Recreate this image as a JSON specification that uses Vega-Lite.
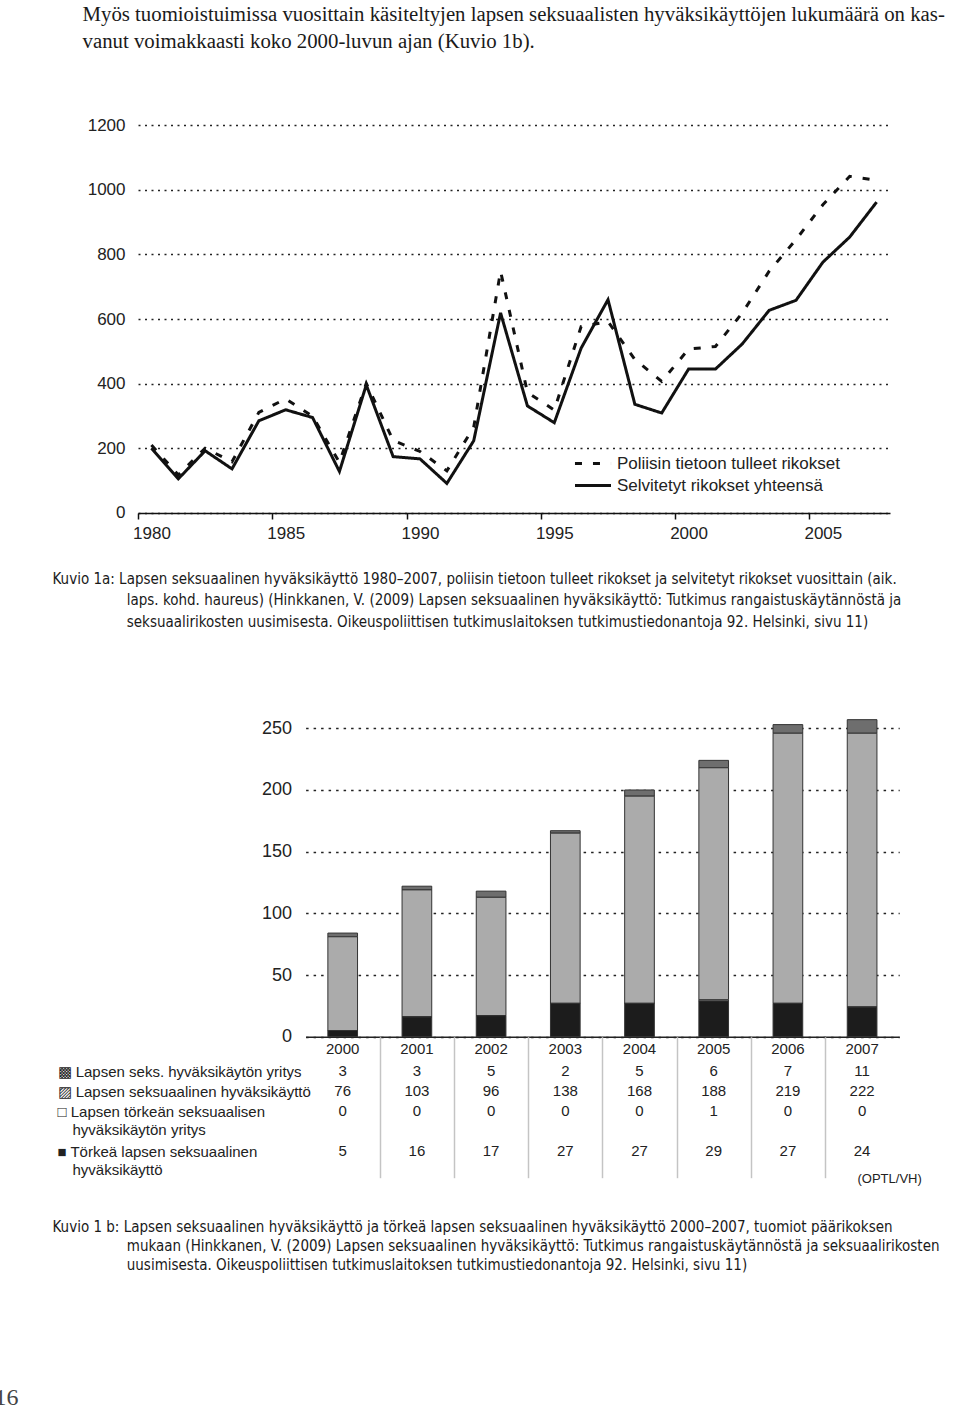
{
  "$schema": "https://vega.github.io/schema/vega-lite/v6.json",
  "width": 960,
  "height": 1408,
  "autosize": {"type": "none"},
  "padding": 0,
  "background": "white",
  "config": {
    "view": {"stroke": null},
    "font": "Liberation Sans",
    "axis": {"labelColor": "#222", "titleColor": "#222", "titleFontWeight": "normal"}
  },
  "datasets": {
    "lines": [
      {"year": 1980, "series": "Selvitetyt rikokset yhteensä", "value": 200},
      {"year": 1981, "series": "Selvitetyt rikokset yhteensä", "value": 105},
      {"year": 1982, "series": "Selvitetyt rikokset yhteensä", "value": 192},
      {"year": 1983, "series": "Selvitetyt rikokset yhteensä", "value": 136},
      {"year": 1984, "series": "Selvitetyt rikokset yhteensä", "value": 285},
      {"year": 1985, "series": "Selvitetyt rikokset yhteensä", "value": 319},
      {"year": 1986, "series": "Selvitetyt rikokset yhteensä", "value": 295},
      {"year": 1987, "series": "Selvitetyt rikokset yhteensä", "value": 128},
      {"year": 1988, "series": "Selvitetyt rikokset yhteensä", "value": 396},
      {"year": 1989, "series": "Selvitetyt rikokset yhteensä", "value": 174},
      {"year": 1990, "series": "Selvitetyt rikokset yhteensä", "value": 167},
      {"year": 1991, "series": "Selvitetyt rikokset yhteensä", "value": 91},
      {"year": 1992, "series": "Selvitetyt rikokset yhteensä", "value": 223},
      {"year": 1993, "series": "Selvitetyt rikokset yhteensä", "value": 619},
      {"year": 1994, "series": "Selvitetyt rikokset yhteensä", "value": 331},
      {"year": 1995, "series": "Selvitetyt rikokset yhteensä", "value": 279},
      {"year": 1996, "series": "Selvitetyt rikokset yhteensä", "value": 510},
      {"year": 1997, "series": "Selvitetyt rikokset yhteensä", "value": 660},
      {"year": 1998, "series": "Selvitetyt rikokset yhteensä", "value": 336},
      {"year": 1999, "series": "Selvitetyt rikokset yhteensä", "value": 309},
      {"year": 2000, "series": "Selvitetyt rikokset yhteensä", "value": 445},
      {"year": 2001, "series": "Selvitetyt rikokset yhteensä", "value": 445},
      {"year": 2002, "series": "Selvitetyt rikokset yhteensä", "value": 523},
      {"year": 2003, "series": "Selvitetyt rikokset yhteensä", "value": 627},
      {"year": 2004, "series": "Selvitetyt rikokset yhteensä", "value": 658},
      {"year": 2005, "series": "Selvitetyt rikokset yhteensä", "value": 776},
      {"year": 2006, "series": "Selvitetyt rikokset yhteensä", "value": 854},
      {"year": 2007, "series": "Selvitetyt rikokset yhteensä", "value": 962},
      {"year": 1980, "series": "Poliisin tietoon tulleet rikokset", "value": 210},
      {"year": 1981, "series": "Poliisin tietoon tulleet rikokset", "value": 117},
      {"year": 1982, "series": "Poliisin tietoon tulleet rikokset", "value": 200},
      {"year": 1983, "series": "Poliisin tietoon tulleet rikokset", "value": 158},
      {"year": 1984, "series": "Poliisin tietoon tulleet rikokset", "value": 311},
      {"year": 1985, "series": "Poliisin tietoon tulleet rikokset", "value": 353},
      {"year": 1986, "series": "Poliisin tietoon tulleet rikokset", "value": 299},
      {"year": 1987, "series": "Poliisin tietoon tulleet rikokset", "value": 156},
      {"year": 1988, "series": "Poliisin tietoon tulleet rikokset", "value": 401},
      {"year": 1989, "series": "Poliisin tietoon tulleet rikokset", "value": 224},
      {"year": 1990, "series": "Poliisin tietoon tulleet rikokset", "value": 190},
      {"year": 1991, "series": "Poliisin tietoon tulleet rikokset", "value": 130},
      {"year": 1992, "series": "Poliisin tietoon tulleet rikokset", "value": 265},
      {"year": 1993, "series": "Poliisin tietoon tulleet rikokset", "value": 748},
      {"year": 1994, "series": "Poliisin tietoon tulleet rikokset", "value": 373},
      {"year": 1995, "series": "Poliisin tietoon tulleet rikokset", "value": 318},
      {"year": 1996, "series": "Poliisin tietoon tulleet rikokset", "value": 577},
      {"year": 1997, "series": "Poliisin tietoon tulleet rikokset", "value": 592},
      {"year": 1998, "series": "Poliisin tietoon tulleet rikokset", "value": 475},
      {"year": 1999, "series": "Poliisin tietoon tulleet rikokset", "value": 407},
      {"year": 2000, "series": "Poliisin tietoon tulleet rikokset", "value": 507},
      {"year": 2001, "series": "Poliisin tietoon tulleet rikokset", "value": 515},
      {"year": 2002, "series": "Poliisin tietoon tulleet rikokset", "value": 619},
      {"year": 2003, "series": "Poliisin tietoon tulleet rikokset", "value": 748},
      {"year": 2004, "series": "Poliisin tietoon tulleet rikokset", "value": 846},
      {"year": 2005, "series": "Poliisin tietoon tulleet rikokset", "value": 954},
      {"year": 2006, "series": "Poliisin tietoon tulleet rikokset", "value": 1042},
      {"year": 2007, "series": "Poliisin tietoon tulleet rikokset", "value": 1030}
    ],
    "bars": [
      {"year": 2000, "category": "Lapsen seks. hyväksikäytön yritys", "value": 3},
      {"year": 2000, "category": "Lapsen seksuaalinen hyväksikäyttö", "value": 76},
      {"year": 2000, "category": "Lapsen törkeän seksuaalisen hyväksikäytön yritys", "value": 0},
      {"year": 2000, "category": "Törkeä lapsen seksuaalinen hyväksikäyttö", "value": 5},
      {"year": 2001, "category": "Lapsen seks. hyväksikäytön yritys", "value": 3},
      {"year": 2001, "category": "Lapsen seksuaalinen hyväksikäyttö", "value": 103},
      {"year": 2001, "category": "Lapsen törkeän seksuaalisen hyväksikäytön yritys", "value": 0},
      {"year": 2001, "category": "Törkeä lapsen seksuaalinen hyväksikäyttö", "value": 16},
      {"year": 2002, "category": "Lapsen seks. hyväksikäytön yritys", "value": 5},
      {"year": 2002, "category": "Lapsen seksuaalinen hyväksikäyttö", "value": 96},
      {"year": 2002, "category": "Lapsen törkeän seksuaalisen hyväksikäytön yritys", "value": 0},
      {"year": 2002, "category": "Törkeä lapsen seksuaalinen hyväksikäyttö", "value": 17},
      {"year": 2003, "category": "Lapsen seks. hyväksikäytön yritys", "value": 2},
      {"year": 2003, "category": "Lapsen seksuaalinen hyväksikäyttö", "value": 138},
      {"year": 2003, "category": "Lapsen törkeän seksuaalisen hyväksikäytön yritys", "value": 0},
      {"year": 2003, "category": "Törkeä lapsen seksuaalinen hyväksikäyttö", "value": 27},
      {"year": 2004, "category": "Lapsen seks. hyväksikäytön yritys", "value": 5},
      {"year": 2004, "category": "Lapsen seksuaalinen hyväksikäyttö", "value": 168},
      {"year": 2004, "category": "Lapsen törkeän seksuaalisen hyväksikäytön yritys", "value": 0},
      {"year": 2004, "category": "Törkeä lapsen seksuaalinen hyväksikäyttö", "value": 27},
      {"year": 2005, "category": "Lapsen seks. hyväksikäytön yritys", "value": 6},
      {"year": 2005, "category": "Lapsen seksuaalinen hyväksikäyttö", "value": 188},
      {"year": 2005, "category": "Lapsen törkeän seksuaalisen hyväksikäytön yritys", "value": 1},
      {"year": 2005, "category": "Törkeä lapsen seksuaalinen hyväksikäyttö", "value": 29},
      {"year": 2006, "category": "Lapsen seks. hyväksikäytön yritys", "value": 7},
      {"year": 2006, "category": "Lapsen seksuaalinen hyväksikäyttö", "value": 219},
      {"year": 2006, "category": "Lapsen törkeän seksuaalisen hyväksikäytön yritys", "value": 0},
      {"year": 2006, "category": "Törkeä lapsen seksuaalinen hyväksikäyttö", "value": 27},
      {"year": 2007, "category": "Lapsen seks. hyväksikäytön yritys", "value": 11},
      {"year": 2007, "category": "Lapsen seksuaalinen hyväksikäyttö", "value": 222},
      {"year": 2007, "category": "Lapsen törkeän seksuaalisen hyväksikäytön yritys", "value": 0},
      {"year": 2007, "category": "Törkeä lapsen seksuaalinen hyväksikäyttö", "value": 24}
    ]
  },
  "layer": [
    {
      "data": {"name": "lines"},
      "mark": {"type": "line", "color": "#111", "strokeWidth": 3, "strokeJoin": "miter", "strokeCap": "butt"},
      "encoding": {
        "x": {
          "field": "year", "type": "quantitative",
          "scale": {"domain": [1979.5, 2007.5], "range": [138, 890], "nice": false, "zero": false},
          "axis": {
            "orient": "bottom", "offset": -895,
            "values": [1979.5, 1984.5, 1989.5, 1994.5, 1999.5, 2004.5],
            "labelExpr": "format(datum.value + 0.5, 'd')",
            "labelOffset": 13.43, "labelFontSize": 17, "labelPadding": 6, "labelFlush": false, "labelOverlap": false,
            "tickSize": 6, "tickWidth": 1.5, "tickColor": "#111",
            "domainColor": "#111", "domainWidth": 1.5, "grid": false,
            "title": [
              "Kuvio 1a: Lapsen seksuaalinen hyväksikäyttö 1980–2007, poliisin tietoon tulleet rikokset ja selvitetyt rikokset vuosittain (aik.",
              "\u200b\u2003\u2003\u2003\u2003\u2003\u2002laps. kohd. haureus) (Hinkkanen, V. (2009) Lapsen seksuaalinen hyväksikäyttö: Tutkimus rangaistuskäytännöstä ja",
              "\u200b\u2003\u2003\u2003\u2003\u2003\u2002seksuaalirikosten uusimisesta. Oikeuspoliittisen tutkimuslaitoksen tutkimustiedonantoja 92. Helsinki, sivu 11)"
            ],
            "titleX": 52, "titleY": 70, "titleAlign": "left", "titleBaseline": "alphabetic", "titleAngle": 0,
            "titleFont": "Liberation Sans Narrow, DejaVu Sans Condensed, sans-serif", "titleFontSize": 15,
            "titleLineHeight": 21.5, "titleLimit": 2000, "titleColor": "#1a1a1a"
          }
        },
        "y": {
          "field": "value", "type": "quantitative",
          "scale": {"domain": [0, 1200], "range": [512.8, 125.3], "nice": false},
          "axis": {
            "orient": "left", "offset": -138, "format": "d",
            "values": [0, 200, 400, 600, 800, 1000, 1200],
            "domain": false, "ticks": false, "labelPadding": 13, "labelFontSize": 17,
            "grid": true, "gridDash": [2, 4.5], "gridColor": "#222", "gridWidth": 1.5,
            "title": [
              "Myös tuomioistuimissa vuosittain käsiteltyjen lapsen seksuaalisten hyväksikäyttöjen lukumäärä on kas-",
              "vanut voimakkaasti koko 2000-luvun ajan (Kuvio 1b)."
            ],
            "titleX": -56, "titleY": 20, "titleAngle": 0, "titleAlign": "left", "titleBaseline": "alphabetic",
            "titleFont": "Liberation Serif", "titleFontSize": 20.8, "titleLineHeight": 27, "titleLimit": 2000, "titleColor": "#1a1a1a"
          }
        },
        "strokeDash": {
          "field": "series", "type": "nominal",
          "scale": {"domain": ["Poliisin tietoon tulleet rikokset", "Selvitetyt rikokset yhteensä"], "range": [[7, 11], [1, 0]]},
          "legend": {
            "orient": "none", "legendX": 573, "legendY": 455, "title": null,
            "symbolType": "stroke", "symbolSize": 1300, "symbolStrokeWidth": 3, "symbolStrokeColor": "#111",
            "clipHeight": 17,
            "labelFontSize": 17, "labelOffset": 4, "rowPadding": 4, "labelColor": "#222", "labelLimit": 400, "padding": 0
          }
        }
      }
    },
    {
      "data": {"name": "bars"},
      "mark": {"type": "bar", "stroke": "#333", "strokeWidth": 1},
      "encoding": {
        "x": {
          "field": "year", "type": "ordinal",
          "scale": {"type": "band", "domain": [2000, 2001, 2002, 2003, 2004, 2005, 2006, 2007], "range": [305.6, 899.2], "paddingInner": 0.6, "paddingOuter": 0.3},
          "axis": {
            "orient": "bottom", "offset": -371.3, "ticks": false, "labelPadding": 5, "labelFontSize": 15, "labelAngle": 0,
            "domainColor": "#222", "domainWidth": 1.5, "grid": false,
            "title": "16", "titleX": -6, "titleY": 368, "titleAlign": "left", "titleBaseline": "alphabetic", "titleAngle": 0,
            "titleFont": "Liberation Serif", "titleFontSize": 24, "titleColor": "#444"
          }
        },
        "y": {
          "field": "value", "type": "quantitative", "stack": "zero",
          "scale": {"domain": [0, 250], "range": [1036.7, 728.3], "nice": false},
          "axis": {
            "orient": "left", "offset": -305.6, "values": [0, 50, 100, 150, 200, 250],
            "domain": false, "ticks": false, "labelPadding": 14, "labelFontSize": 18,
            "grid": true, "gridDash": [2.5, 5], "gridColor": "#222", "gridWidth": 1.5, "title": null
          }
        },
        "color": {
          "field": "category", "type": "nominal",
          "scale": {
            "domain": ["Lapsen seks. hyväksikäytön yritys", "Lapsen seksuaalinen hyväksikäyttö", "Lapsen törkeän seksuaalisen hyväksikäytön yritys", "Törkeä lapsen seksuaalinen hyväksikäyttö"],
            "range": ["#6e6e6e", "#ababab", "#ffffff", "#1c1c1c"]
          },
          "legend": null
        },
        "order": {"field": "category", "sort": "descending"}
      }
    },
    {
      "data": {"name": "bars"},
      "mark": {"type": "text", "fontSize": 15, "color": "#222", "font": "Liberation Sans"},
      "encoding": {
        "x": {
          "field": "year", "type": "ordinal",
          "scale": {"type": "band", "domain": [2000, 2001, 2002, 2003, 2004, 2005, 2006, 2007], "range": [305.6, 899.2], "paddingInner": 0.6, "paddingOuter": 0.3},
          "axis": {
            "orient": "bottom", "offset": -371.3, "labels": false, "domain": false, "ticks": true,
            "values": [2001, 2002, 2003, 2004, 2005, 2006, 2007],
            "tickOffset": -37.1, "tickSize": 141, "tickColor": "#c4c4c4", "tickWidth": 1.5, "grid": false,
            "title": [
              "Kuvio 1 b: Lapsen seksuaalinen hyväksikäyttö ja törkeä lapsen seksuaalinen hyväksikäyttö 2000–2007, tuomiot päärikoksen",
              "\u200b\u2003\u2003\u2003\u2003\u2003\u2002mukaan (Hinkkanen, V. (2009) Lapsen seksuaalinen hyväksikäyttö: Tutkimus rangaistuskäytännöstä ja seksuaalirikosten",
              "\u200b\u2003\u2003\u2003\u2003\u2003\u2002uusimisesta. Oikeuspoliittisen tutkimuslaitoksen tutkimustiedonantoja 92. Helsinki, sivu 11)"
            ],
            "titleX": 52, "titleY": 194.3, "titleAlign": "left", "titleBaseline": "alphabetic", "titleAngle": 0,
            "titleFont": "Liberation Sans Narrow, DejaVu Sans Condensed, sans-serif", "titleFontSize": 15,
            "titleLineHeight": 19, "titleLimit": 2000, "titleColor": "#1a1a1a"
          }
        },
        "y": {
          "field": "category", "type": "nominal",
          "scale": {
            "type": "point",
            "domain": ["Lapsen seks. hyväksikäytön yritys", "Lapsen seksuaalinen hyväksikäyttö", "Lapsen törkeän seksuaalisen hyväksikäytön yritys", "-", "Törkeä lapsen seksuaalinen hyväksikäyttö"],
            "range": [1071, 1151], "padding": 0
          },
          "axis": {
            "orient": "left", "offset": -57, "domain": false, "ticks": false, "grid": false,
            "labelPadding": 0, "labelAlign": "left", "labelBaseline": "alphabetic", "labelOffset": 5,
            "labelFontSize": 15, "labelLineHeight": 18, "labelLimit": 0, "labelOverlap": false,
            "labelExpr": "datum.label == 'Lapsen seks. hyväksikäytön yritys' ? '▩ Lapsen seks. hyväksikäytön yritys' : datum.label == 'Lapsen seksuaalinen hyväksikäyttö' ? '▨ Lapsen seksuaalinen hyväksikäyttö' : datum.label == 'Lapsen törkeän seksuaalisen hyväksikäytön yritys' ? ['□ Lapsen törkeän seksuaalisen', '\u200b\u2003hyväksikäytön yritys'] : datum.label == 'Törkeä lapsen seksuaalinen hyväksikäyttö' ? ['■ Törkeä lapsen seksuaalinen', '\u200b\u2003hyväksikäyttö'] : ''",
            "title": "(OPTL/VH)", "titleX": 800, "titleY": 1182, "titleAngle": 0, "titleAlign": "left", "titleBaseline": "alphabetic",
            "titleFontSize": 13, "titleColor": "#222"
          }
        },
        "text": {"field": "value", "type": "quantitative"}
      }
    }
  ],
  "resolve": {
    "scale": {"x": "independent", "y": "independent", "color": "independent", "strokeDash": "independent"},
    "axis": {"x": "independent", "y": "independent"}
  }
}
